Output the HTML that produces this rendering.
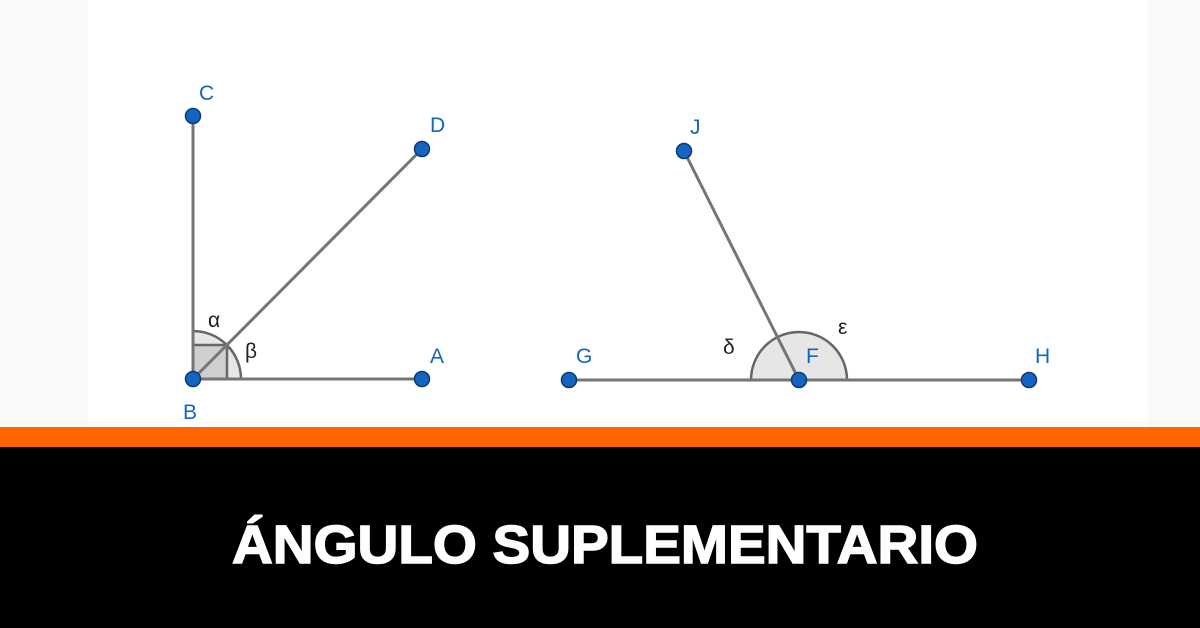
<!DOCTYPE html>
<html><head><meta charset="utf-8"><style>
html,body{margin:0;padding:0;width:1200px;height:628px;overflow:hidden;background:#fafafa;}
svg{display:block}
</style></head><body>
<svg width="1200" height="628" xmlns="http://www.w3.org/2000/svg" font-family="Liberation Sans, sans-serif">
<rect x="0" y="0" width="1200" height="427" fill="#fafafa"/>
<rect x="88" y="0" width="1060" height="427" fill="#ffffff"/>
<rect x="0" y="427" width="1200" height="20" fill="#ff6600"/>
<rect x="0" y="447" width="1200" height="181" fill="#000"/>
<path d="M193,379 L193,331 A48,48 0 0 1 241,379 Z" fill="#e6e6e6" stroke="#666" stroke-width="2.5"/>
<rect x="193" y="345" width="34" height="34" fill="#cfcfcf" stroke="#666" stroke-width="2.5"/>
<g stroke="#757575" stroke-width="3">
<line x1="193" y1="379" x2="193" y2="116"/>
<line x1="193" y1="379" x2="422" y2="149"/>
<line x1="193" y1="379" x2="422" y2="379"/>
</g>
<path d="M751,380 A48,48 0 0 1 847,380 Z" fill="#e6e6e6" stroke="#666" stroke-width="2.5"/>
<g stroke="#757575" stroke-width="3">
<line x1="569" y1="380" x2="1029" y2="380"/>
<line x1="799" y1="380" x2="684" y2="151"/>
</g>
<g fill="#1565c0" stroke="#0d3a78" stroke-width="1.5">
<circle cx="193" cy="116" r="7.5"/><circle cx="422" cy="149" r="7.5"/><circle cx="422" cy="379" r="7.5"/><circle cx="193" cy="379" r="7.5"/>
<circle cx="684" cy="151" r="7.5"/><circle cx="569" cy="380" r="7.5"/><circle cx="799" cy="380" r="7.5"/><circle cx="1029" cy="380" r="7.5"/>
</g>
<g fill="#1565c0" font-size="21">
<text x="199" y="100">C</text><text x="430" y="132">D</text><text x="430" y="363">A</text><text x="183" y="419">B</text>
<text x="690" y="134">J</text><text x="576" y="363">G</text><text x="806" y="363">F</text><text x="1035" y="363">H</text>
</g>
<g fill="#222" font-size="21">
<text x="208" y="327">α</text><text x="245" y="358">β</text><text x="723" y="354">δ</text><text x="838" y="334">ε</text>
</g>
<text x="605" y="563" fill="#fff" stroke="#fff" stroke-width="1.5" font-size="54" font-weight="bold" text-anchor="middle" textLength="746" lengthAdjust="spacingAndGlyphs">ÁNGULO SUPLEMENTARIO</text>
</svg>
</body></html>
